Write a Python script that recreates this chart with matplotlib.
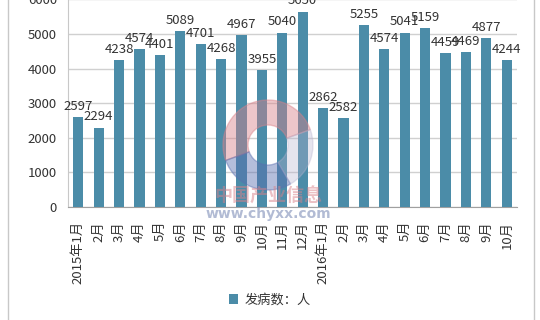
import matplotlib
matplotlib.use('Agg')
import matplotlib.pyplot as plt
from matplotlib.patches import Rectangle, Wedge
import numpy as np

plt.rcParams['font.family'] = ['Noto Sans CJK SC', 'DejaVu Sans']

# monthly counts
months = ['2015年1月', '2月', '3月', '4月', '5月', '6月', '7月', '8月', '9月', '10月',
          '11月', '12月', '2016年1月', '2月', '3月', '4月', '5月', '6月', '7月', '8月',
          '9月', '10月']
cases = [2597, 2294, 4238, 4574, 4401, 5089, 4701, 4268, 4967, 3955,
         5040, 5650, 2862, 2582, 5255, 4574, 5041, 5159, 4459, 4469,
         4877, 4244]
yticks = [0, 1000, 2000, 3000, 4000, 5000, 6000]

fig = plt.figure(figsize=(5.4, 3.2), dpi=100)
ax = fig.add_axes([68 / 540, 113 / 320, 449 / 540, 207.6 / 320])

x = np.arange(len(months))
ax.bar(x, cases, width=0.5, color='#4b8ca8', zorder=3, label='发病数：人')

for xi, v in zip(x, cases):
    ax.text(xi, v + 120, str(v), ha='center', va='bottom', fontsize=9.5,
            color='#333333', zorder=5)

ax.set_xlim(-0.5, len(months) - 0.5)
ax.set_ylim(0, 6000)
ax.set_yticks(yticks)
ax.set_yticklabels([str(t) for t in yticks], fontsize=9.5, color='#333333')
ax.set_xticks(x)
ax.set_xticklabels(months, rotation=90, fontsize=9.5, color='#333333')
ax.tick_params(axis='y', length=0, pad=8)
ax.tick_params(axis='x', length=0, pad=10)
ax.grid(axis='y', color='#d0d0d0', linewidth=1, zorder=0)

for side in ['top', 'right']:
    ax.spines[side].set_visible(False)
ax.spines['left'].set_color('#c8c8c8')
ax.spines['bottom'].set_color('#a0a0a0')

# faint watermark logo
cx, cy = 268 / 540, 1 - 145 / 320
wax = fig.add_axes([cx - 50 / 540, cy - 50 / 320, 100 / 540, 100 / 320])
wax.set_xlim(-1, 1)
wax.set_ylim(-1, 1)
wax.set_aspect('equal')
wax.axis('off')
wax.add_patch(Wedge((0, 0), 0.9, 20, 200, width=0.5, color='#d9828a', alpha=0.45))
wax.add_patch(Wedge((0, 0), 0.9, 200, 300, width=0.5, color='#5a6fb0', alpha=0.45))
wax.add_patch(Wedge((0, 0), 0.9, 300, 20, width=0.5, color='#b7b3cf', alpha=0.35))
fig.text(268 / 540, 1 - 196 / 320, '中国产业信息', ha='center', va='center',
         fontsize=13, fontweight='bold', color='#d9828a', alpha=0.5)
fig.text(268 / 540, 1 - 214 / 320, 'www.chyxx.com', ha='center', va='center',
         fontsize=10, fontweight='bold', color='#7f8fb8', alpha=0.6,
         family='DejaVu Sans')

leg = fig.legend(loc='center', bbox_to_anchor=(270 / 540, 1 - 300 / 320),
                 frameon=False, fontsize=9.5, handlelength=0.7, handleheight=0.7,
                 handletextpad=0.5)
for t in leg.get_texts():
    t.set_color('#333333')

fig.patches.append(Rectangle((8 / 540, -0.02), 526 / 540, 1.04,
                             transform=fig.transFigure, fill=False,
                             edgecolor='#c8c8c8', linewidth=1))

fig.savefig('out.png', dpi=100)
